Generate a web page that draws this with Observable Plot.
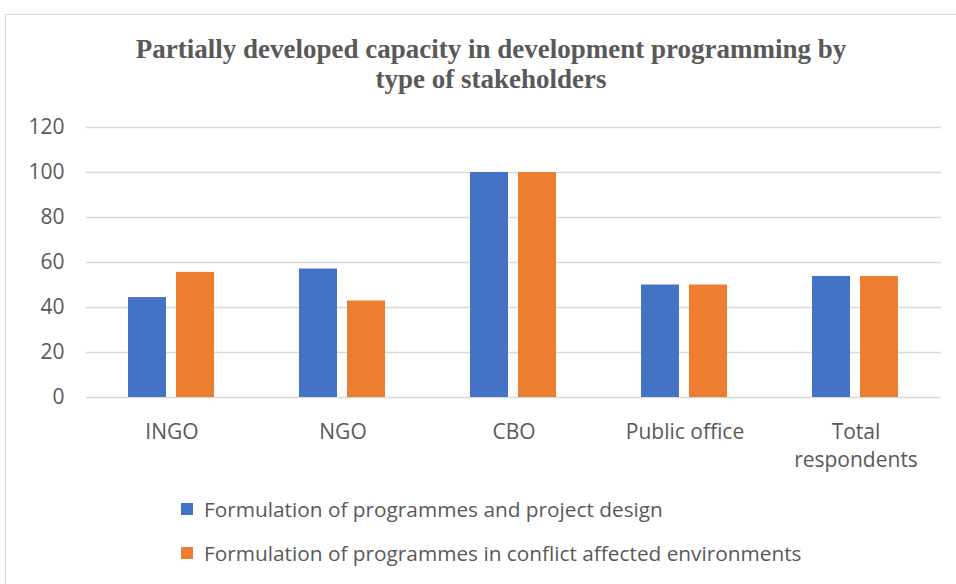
<!DOCTYPE html>
<html>
<head>
<meta charset="utf-8">
<script src="https://cdn.jsdelivr.net/npm/d3@7"></script>
<script src="https://cdn.jsdelivr.net/npm/@observablehq/plot@0.6"></script>
<style>
  html, body { margin: 0; padding: 0; background: #fff; }
  #frame { position: relative; width: 956px; height: 584px; overflow: hidden; }
  #border { position: absolute; left: 5px; top: 14px; width: 960px; height: 600px;
            border: 1.5px solid #d9d9d9; box-sizing: border-box; }
  #title { position: absolute; left: 0; top: 34px; width: 982px; text-align: center;
           font-family: "Liberation Serif", "Times New Roman", serif; font-weight: bold;
           font-size: 27px; line-height: 30px; color: #595959; }
  #chart { position: absolute; left: 0; top: 100px; }
  #legend { position: absolute; left: 181px; top: 494px;
            font-family: "Open Sans", sans-serif; font-size: 20.8px; color: #595959; }
  .item { display: flex; align-items: center; height: 30px; margin-bottom: 14px; }
  .sw { width: 12px; height: 12px; margin-right: 11px; }
</style>
</head>
<body>
<div id="frame">
  <div id="border"></div>
  <div id="title">Partially developed capacity in development programming by<br>type of stakeholders</div>
  <div id="chart"></div>
  <div id="legend"></div>
</div>
<script>
// Stakeholder groups and the share (%) reporting partially developed capacity
const categories = ["INGO", "NGO", "CBO", "Public office", "Total respondents"];
const seriesNames = [
  "Formulation of programmes and project design",
  "Formulation of programmes in conflict affected environments"
];
const designValues = [44.4, 57.1, 100, 50, 53.8];
const conflictValues = [55.6, 42.9, 100, 50, 53.8];
const seriesColors = ["#4472C4", "#ED7D31"];
const yTicks = [0, 20, 40, 60, 80, 100, 120];

const rows = [];
categories.forEach((c, i) => {
  rows.push({category: c, series: seriesNames[0], value: designValues[i]});
  rows.push({category: c, series: seriesNames[1], value: conflictValues[i]});
});

const chart = Plot.plot({
  width: 956,
  height: 400,
  marginTop: 27,
  marginBottom: 103,
  marginLeft: 86,
  marginRight: 15,
  style: {fontFamily: "'Open Sans', sans-serif", fontSize: "21px", color: "#595959"},
  fx: {domain: categories, padding: 0, label: null},
  x: {domain: seriesNames, paddingInner: 0.2, paddingOuter: 0.85, axis: null},
  y: {domain: [0, 120], ticks: yTicks, label: null},
  color: {domain: seriesNames, range: seriesColors},
  marks: [
    Plot.ruleY(yTicks, {stroke: "#d9d9d9", strokeWidth: 1.5}),
    Plot.axisY(yTicks, {tickSize: 0, tickPadding: 22, fontSize: 21, fill: "#595959", label: null}),
    Plot.axisFx({anchor: "bottom", tickSize: 0, tickPadding: 22, fontSize: 21, fill: "#595959",
                 label: null, lineHeight: 1.33,
                 tickFormat: d => d.replace("Total ", "Total\n")}),
    Plot.barY(rows, {fx: "category", x: "series", y: "value", fill: "series"})
  ]
});
document.getElementById("chart").appendChild(chart);

const legend = document.getElementById("legend");
seriesNames.forEach((name, i) => {
  const item = document.createElement("div");
  item.className = "item";
  const sw = document.createElement("span");
  sw.className = "sw";
  sw.style.background = seriesColors[i];
  const label = document.createElement("span");
  label.textContent = name;
  item.appendChild(sw);
  item.appendChild(label);
  legend.appendChild(item);
});
</script>
</body>
</html>
